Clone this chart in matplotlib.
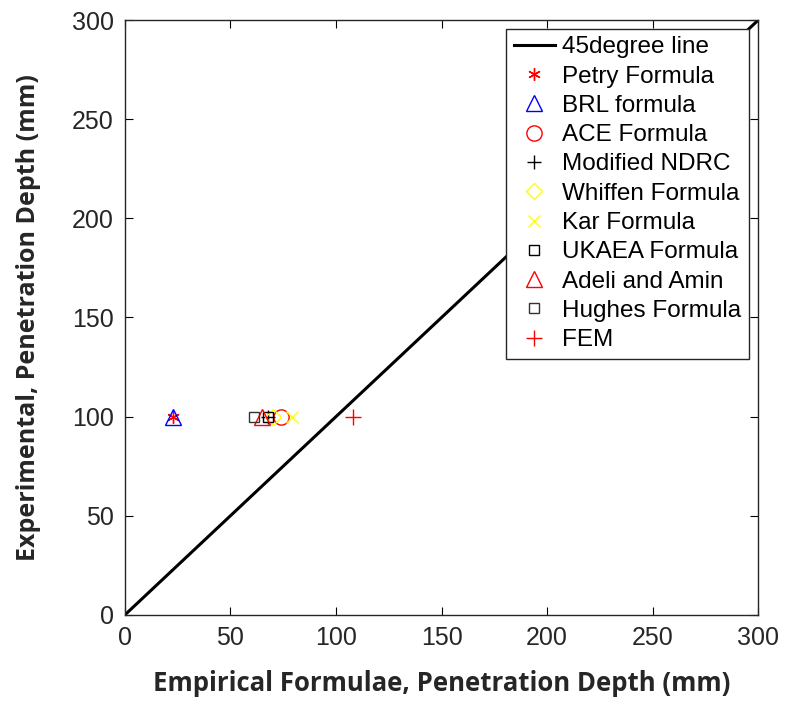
import matplotlib
matplotlib.use("Agg")
import matplotlib.pyplot as plt

line_x = [0, 300]
line_y = [0, 300]

labels = ["Petry Formula", "BRL formula", "ACE Formula", "Modified NDRC", "Whiffen Formula",
          "Kar Formula", "UKAEA Formula", "Adeli and Amin", "Hughes Formula", "FEM"]
x_vals = [23, 23, 74, 68, 70, 79, 68, 65, 61, 108]
y_vals = [100, 100, 100, 100, 100, 100, 100, 100, 100, 100]
markers = ["*", "^", "o", "+", "D", "x", "s", "^", "s", "+"]
colors = ["red", "blue", "red", "black", "yellow", "yellow", "black", "red", "#333333", "red"]
sizes = [9, 11, 11, 10, 8, 8, 7, 11, 7, 11]

fig = plt.figure(figsize=(7.85, 7.02), dpi=100)
ax = fig.add_axes([0.159, 0.124, 0.807, 0.8475])

ax.plot(line_x, line_y, color="black", lw=2.2, label="45degree line")
for lab, xv, yv, m, c, s in zip(labels, x_vals, y_vals, markers, colors, sizes):
    if m == "*":
        ax.plot([xv], [yv], linestyle="none", marker=(6, 2, 0), color=c, markersize=s,
                markeredgewidth=1, label=lab)
    else:
        ax.plot([xv], [yv], linestyle="none", marker=m, markerfacecolor="none",
                markeredgecolor=c, color=c, markersize=s, markeredgewidth=1, label=lab)

ax.set_xlim(0, 300)
ax.set_ylim(0, 300)
ax.set_xticks([0, 50, 100, 150, 200, 250, 300])
ax.set_yticks([0, 50, 100, 150, 200, 250, 300])
ax.tick_params(direction="in", top=True, right=True, length=6, labelsize=18,
               labelcolor="#262626", pad=8)
for t in ax.get_xticklabels() + ax.get_yticklabels():
    t.set_fontfamily("Liberation Sans")
for sp in ax.spines.values():
    sp.set_color("#262626")
    sp.set_linewidth(1)

ax.set_xlabel("Empirical Formulae, Penetration Depth (mm)", fontsize=18.5, fontweight="bold",
              family="Open Sans", color="#262626", labelpad=14)
ax.set_ylabel("Experimental, Penetration Depth (mm)", fontsize=18, fontweight="bold",
              family="Open Sans", color="#262626", labelpad=22)

leg = ax.legend(loc="upper right", bbox_to_anchor=(0.985, 0.985),
                prop={"family": "Liberation Sans", "size": 17.5}, fancybox=False,
                framealpha=1, edgecolor="#262626", handlelength=1.7, handletextpad=0.3,
                labelspacing=0.3, borderpad=0.3, borderaxespad=0)
leg.get_frame().set_linewidth(1)

fig.savefig("out.png", dpi=100)
